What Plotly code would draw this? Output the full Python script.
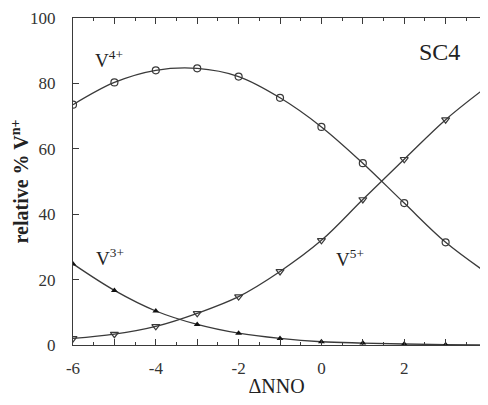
import plotly.graph_objects as go

dnno = [-6, -5, -4, -3, -2, -1, 0, 1, 2, 3, 4]
v4 = [73.5, 80.3, 84.0, 84.6, 82.1, 75.6, 66.7, 55.6, 43.4, 31.4, 22.0]
v5 = [2.0, 3.3, 5.7, 9.7, 14.8, 22.5, 32.0, 44.5, 56.8, 68.9, 79.0]
v3 = [24.8, 16.7, 10.4, 6.3, 3.6, 2.0, 1.0, 0.6, 0.3, 0.1, 0.0]

xtick_vals = [-6, -5, -4, -3, -2, -1, 0, 1, 2, 3, 4]
xtick_text = ["-6", "", "-4", "", "-2", "", "0", "", "2", "", "4"]
ytick_vals = [0, 20, 40, 60, 80, 100]

FONT = "Liberation Serif"
LC = "#3a3a3a"

fig = go.Figure()
fig.add_trace(go.Scatter(x=dnno, y=v4, mode="lines+markers", line=dict(color=LC, width=1.3, shape="spline"),
                         marker=dict(symbol="circle-open", size=7, color=LC, line=dict(width=1.2)), name="V4+"))
fig.add_trace(go.Scatter(x=dnno, y=v5, mode="lines+markers", line=dict(color=LC, width=1.3, shape="spline"),
                         marker=dict(symbol="triangle-down-open", size=7, color=LC, line=dict(width=1.2)), name="V5+"))
fig.add_trace(go.Scatter(x=dnno, y=v3, mode="lines+markers", line=dict(color=LC, width=1.3, shape="spline"),
                         marker=dict(symbol="triangle-up", size=6, color="#111"), name="V3+"))

ann = [
    dict(x=-5.13, y=87.6, text="V<sup>4+</sup>"),
    dict(x=2.86, y=89.7, text="SC4", size=24),
    dict(x=-5.11, y=26.9, text="V<sup>3+</sup>"),
    dict(x=0.69, y=26.6, text="V<sup>5+</sup>"),
]
for a in ann:
    fig.add_annotation(x=a["x"], y=a["y"], text=a["text"], showarrow=False,
                       font=dict(family=FONT, size=a.get("size", 19), color="#222"))

fig.update_layout(
    width=472, height=389,
    margin=dict(l=65, r=0, t=10, b=52),
    paper_bgcolor="white", plot_bgcolor="white",
    showlegend=False,
    font=dict(family=FONT, size=17, color="#333"),
    xaxis=dict(range=[-6, 3.83], tickvals=xtick_vals, ticktext=xtick_text, ticks="inside", ticklen=6,
               tickcolor=LC, showline=True, linecolor=LC, linewidth=1.3, mirror="ticks",
               showgrid=False, zeroline=False, automargin=False, ticklabelstandoff=7,
               ticklabeloverflow="allow",
               minor=dict(dtick=0.5, ticks="inside", ticklen=3, tickcolor=LC, showgrid=False),
               title=dict(text="ΔNNO", font=dict(family=FONT, size=20, color="#222"), standoff=2)),
    yaxis=dict(range=[0, 100], tickvals=ytick_vals, ticks="inside", ticklen=6, tickcolor=LC,
               showline=True, linecolor=LC, linewidth=1.3, showgrid=False, zeroline=False,
               automargin=False, ticklabelstandoff=13, ticklabeloverflow="allow",
               title=dict(text="<b>relative % V<sup>n+</sup></b>", font=dict(family=FONT, size=20, color="#222"), standoff=0)),
)

fig.write_html("out.html")
